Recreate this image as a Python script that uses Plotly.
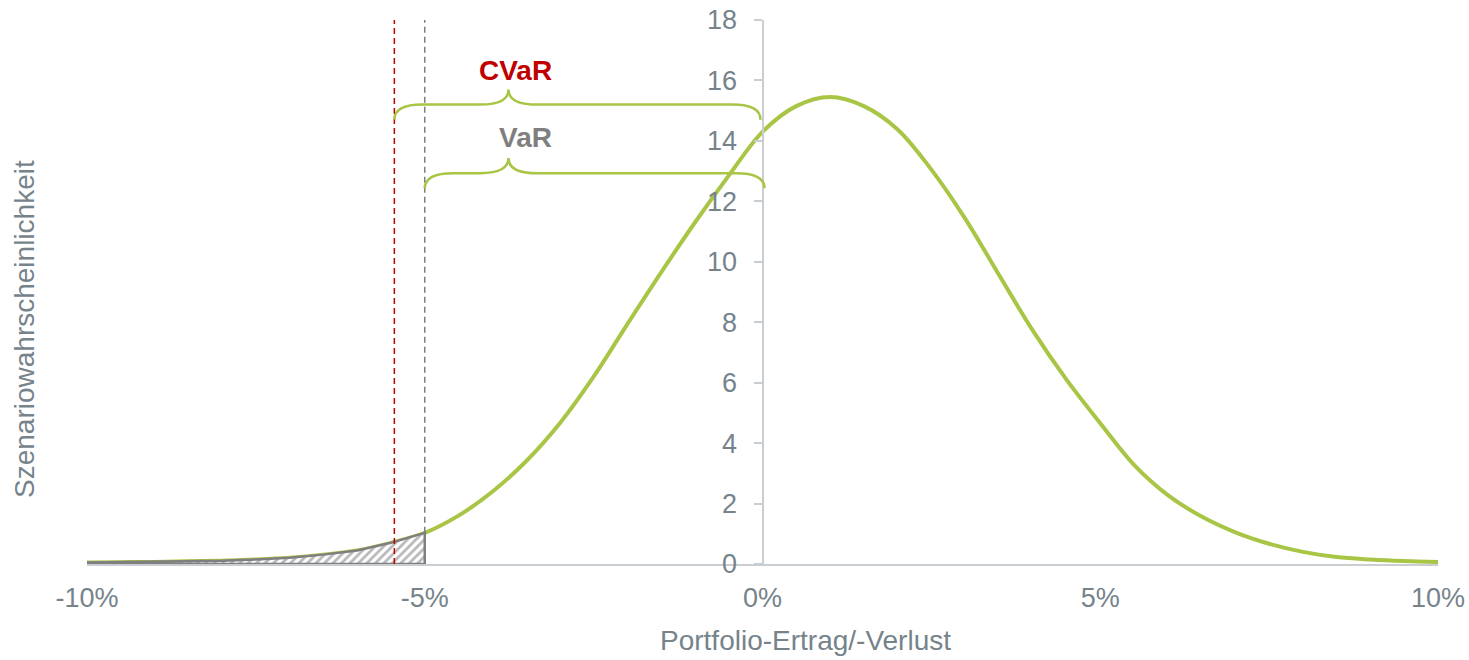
import plotly.graph_objects as go

# Portfolio-Ertrag in %, Szenariowahrscheinlichkeit
returns = [-10, -9.5, -9, -8.5, -8, -7.5, -7, -6.5, -6, -5.5, -5,
           -4.5, -4, -3.5, -3, -2.5, -2, -1.5, -1, -0.5, 0,
           0.5, 1, 1.5, 2, 2.5, 3, 3.5, 4, 4.5, 5,
           5.5, 6, 6.5, 7, 7.5, 8, 8.5, 9, 9.5, 10]
density = [0.05, 0.06, 0.07, 0.09, 0.11, 0.15, 0.21, 0.31, 0.45, 0.70, 1.03,
           1.60, 2.39, 3.40, 4.66, 6.20, 7.94, 9.65, 11.30, 12.85, 14.30,
           15.15, 15.45, 15.15, 14.38, 13.05, 11.43, 9.57, 7.73, 6.10, 4.66,
           3.28, 2.28, 1.57, 1.05, 0.67, 0.40, 0.23, 0.15, 0.10, 0.07]

VAR = -5.0
CVAR = -5.45
x_ticks = [-10, -5, 0, 5, 10]
x_ticklabels = ["-10%", "-5%", "0%", "5%", "10%"]
y_ticks = [0, 2, 4, 6, 8, 10, 12, 14, 16, 18]

GREEN = "#a8c545"
GREY_TXT = "#76838b"
AXIS = "#c9ced2"
FONT = "Liberation Sans, Arial, sans-serif"

# tail polygon up to the VaR
tail_x = [x for x in returns if x <= VAR]
tail_y = density[:len(tail_x)]
var_density = tail_y[-1]

fig = go.Figure()

fig.add_trace(go.Scatter(
    x=returns, y=density, mode="lines",
    line=dict(color=GREEN, width=4, shape="spline"),
    hoverinfo="skip", showlegend=False
))

fig.add_trace(go.Scatter(
    x=tail_x + [VAR, tail_x[0]], y=tail_y + [0, 0],
    mode="lines", fill="toself",
    fillcolor="rgba(0,0,0,0)",
    fillpattern=dict(shape="/", fgcolor="#6f6f6f", bgcolor="white", size=6, solidity=0.45),
    line=dict(color="#7f7f7f", width=2.5),
    hoverinfo="skip", showlegend=False
))


def brace(x0, x1, tip, yh, h, dx):
    ye, yt = yh - h, yh + h
    return (f"M {x0},{ye} Q {x0},{yh} {x0 + dx},{yh} L {tip - dx},{yh} "
            f"Q {tip},{yh} {tip},{yt} Q {tip},{yh} {tip + dx},{yh} "
            f"L {x1 - dx},{yh} Q {x1},{yh} {x1},{ye}")


shapes = [
    dict(type="line", xref="x", yref="y", x0=CVAR, x1=CVAR, y0=0, y1=18,
         line=dict(color="#c00000", width=1.5, dash="6px,4px")),
    dict(type="line", xref="x", yref="y", x0=VAR, x1=VAR, y0=var_density, y1=18,
         line=dict(color="#7f7f7f", width=1.5, dash="6px,4px")),
    dict(type="path", xref="x", yref="y", path=brace(CVAR, -0.03, -3.76, 15.2, 0.5, 0.42),
         line=dict(color=GREEN, width=2.5)),
    dict(type="path", xref="x", yref="y", path=brace(VAR, 0.03, -3.76, 12.93, 0.5, 0.42),
         line=dict(color=GREEN, width=2.5)),
]

annotations = [
    dict(x=-3.66, y=16.32, xref="x", yref="y", text="<b>CVaR</b>", showarrow=False,
         font=dict(size=28, color="#c00000", family=FONT)),
    dict(x=-3.51, y=14.11, xref="x", yref="y", text="<b>VaR</b>", showarrow=False,
         font=dict(size=28, color="#7f7f7f", family=FONT)),
    dict(x=0.532, y=-0.1415, xref="paper", yref="paper", text="Portfolio-Ertrag/-Verlust",
         showarrow=False, yanchor="middle", font=dict(size=28, color=GREY_TXT, family=FONT)),
    dict(x=-0.0459, y=0.432, xref="paper", yref="paper", text="Szenariowahrscheinlichkeit",
         showarrow=False, textangle=-90, xanchor="center", yanchor="middle",
         font=dict(size=28, color=GREY_TXT, family=FONT)),
]

fig.update_layout(
    width=1469, height=660,
    margin=dict(l=87, r=31, t=20, b=96),
    paper_bgcolor="white", plot_bgcolor="white",
    font=dict(family=FONT, size=27, color=GREY_TXT),
    shapes=shapes, annotations=annotations,
    xaxis=dict(range=[-10, 10], tickvals=x_ticks, ticktext=x_ticklabels,
               showgrid=False, zeroline=False, showline=True, linecolor=AXIS, linewidth=2,
               ticks="", ticklabelstandoff=9, automargin=False),
    yaxis=dict(range=[0, 18], tickvals=y_ticks, anchor="free", position=0.5,
               showgrid=False, zeroline=False, showline=True, linecolor=AXIS, linewidth=2,
               ticks="outside", ticklen=8, tickcolor=AXIS, tickwidth=1.5,
               ticklabelstandoff=11, automargin=False),
)

# drop the default 8px body margin so the figure fills the window exactly
fig.write_html("out.html", config={"displayModeBar": False},
               post_script="document.body.style.margin = '0px';")
